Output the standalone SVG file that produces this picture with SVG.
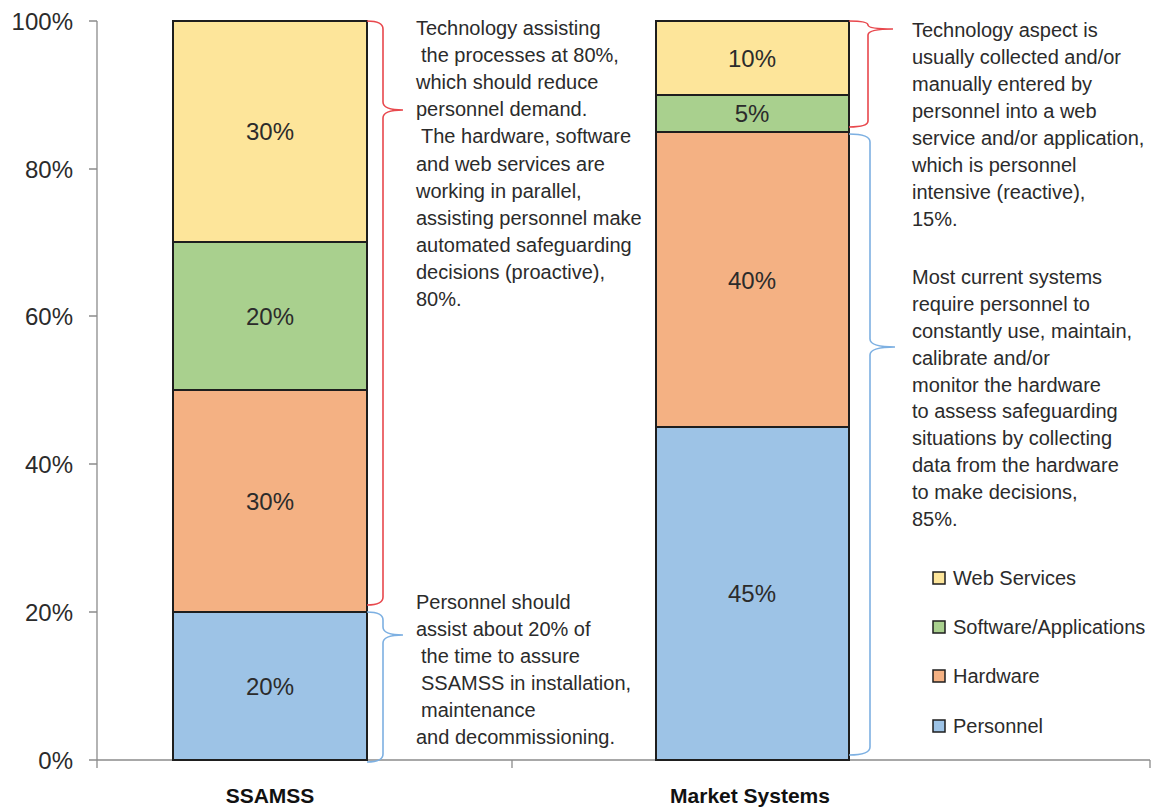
<svg xmlns="http://www.w3.org/2000/svg" width="1160" height="809" viewBox="0 0 1160 809">
<style>
.t{font-family:"Liberation Sans",Arial,sans-serif;font-size:20px;fill:#2b2b2b}
.ax{font-family:"Liberation Sans",Arial,sans-serif;font-size:24px;fill:#2b2b2b;text-anchor:end}
.v{font-family:"Liberation Sans",Arial,sans-serif;font-size:24px;fill:#2b2b2b;text-anchor:middle}
.cat{font-family:"Liberation Sans",Arial,sans-serif;font-size:21px;font-weight:bold;fill:#111;text-anchor:middle}
.seg{stroke:#1e1e1e;stroke-width:2}
.axis{stroke:#8c8c8c;stroke-width:1.3;fill:none}
.red{stroke:#e8484d;stroke-width:1.6;fill:none}
.blu{stroke:#7db0e2;stroke-width:1.6;fill:none}
.y{fill:#fde59a}.g{fill:#a9d08e}.o{fill:#f4b183}.b{fill:#9dc3e6}
.lg{stroke:#1e1e1e;stroke-width:1.5}
</style>
<rect width="1160" height="809" fill="#fff"/>
<g id="axes">
<path class="axis" d="M97,21 V768 M89,21 H97 M89,169 H97 M89,316 H97 M89,464 H97 M89,612 H97 M89,760 H1150 M512,760 V768 M1150,760 V768"/>
<text class="ax" x="73" y="30">100%</text>
<text class="ax" x="73" y="178">80%</text>
<text class="ax" x="73" y="325">60%</text>
<text class="ax" x="73" y="473">40%</text>
<text class="ax" x="73" y="621">20%</text>
<text class="ax" x="73" y="769">0%</text>
<text class="cat" x="270" y="803">SSAMSS</text>
<text class="cat" x="750" y="803">Market Systems</text>
</g>
<g id="bar-ssamss">
<rect class="seg y" x="173" y="21" width="194" height="221"/>
<rect class="seg g" x="173" y="242" width="194" height="148"/>
<rect class="seg o" x="173" y="390" width="194" height="222"/>
<rect class="seg b" x="173" y="612" width="194" height="148"/>
<text class="v" x="270" y="140">30%</text>
<text class="v" x="270" y="325">20%</text>
<text class="v" x="270" y="510">30%</text>
<text class="v" x="270" y="695">20%</text>
</g>
<g id="bar-market">
<rect class="seg y" x="656" y="21" width="193" height="74"/>
<rect class="seg g" x="656" y="95" width="193" height="37"/>
<rect class="seg o" x="656" y="132" width="193" height="295"/>
<rect class="seg b" x="656" y="427" width="193" height="333"/>
<text class="v" x="752" y="67">10%</text>
<text class="v" x="752" y="122">5%</text>
<text class="v" x="752" y="289">40%</text>
<text class="v" x="752" y="602">45%</text>
</g>
<g id="connectors">
<path class="red" d="M367,21 Q383,21 383,29 L383,102 Q383,110 403,110 Q383,110 383,118 L383,597 Q383,605 367,605"/>
<path class="blu" d="M367,612 Q383,612 383,620 L383,627 Q383,635 403,635 Q383,635 383,643 L383,754 Q383,762 367,762"/>
<path class="red" d="M849,21 Q868,21 868,25 Q868,29 893,29 Q868,29 868,35 L868,121 Q868,127 849,127"/>
<path class="blu" d="M849,134 Q870,134 870,142 L870,339 Q870,347 895,347 Q870,347 870,355 L870,747 Q870,755 849,755"/>
</g>
<g id="note-ssamss-tech">
<text class="t" x="416" y="35">Technology assisting</text>
<text class="t" x="421" y="62">the processes at 80%,</text>
<text class="t" x="416" y="89">which should reduce</text>
<text class="t" x="416" y="116">personnel demand.</text>
<text class="t" x="421" y="143">The hardware, software</text>
<text class="t" x="416" y="171">and web services are</text>
<text class="t" x="416" y="198">working in parallel,</text>
<text class="t" x="416" y="225">assisting personnel make</text>
<text class="t" x="416" y="252">automated safeguarding</text>
<text class="t" x="416" y="279">decisions (proactive),</text>
<text class="t" x="416" y="306">80%.</text>
</g>
<g id="note-ssamss-personnel">
<text class="t" x="416" y="609">Personnel should</text>
<text class="t" x="416" y="636">assist about 20% of</text>
<text class="t" x="421" y="663">the time to assure</text>
<text class="t" x="421" y="690">SSAMSS in installation,</text>
<text class="t" x="421" y="717">maintenance</text>
<text class="t" x="416" y="744">and decommissioning.</text>
</g>
<g id="note-market-tech">
<text class="t" x="912" y="37">Technology aspect is</text>
<text class="t" x="912" y="64">usually collected and/or</text>
<text class="t" x="912" y="91">manually entered by</text>
<text class="t" x="912" y="118">personnel into a web</text>
<text class="t" x="912" y="145">service and/or application,</text>
<text class="t" x="912" y="172">which is personnel</text>
<text class="t" x="912" y="199">intensive (reactive),</text>
<text class="t" x="912" y="226">15%.</text>
</g>
<g id="note-market-personnel">
<text class="t" x="912" y="284">Most current systems</text>
<text class="t" x="912" y="311">require personnel to</text>
<text class="t" x="912" y="338">constantly use, maintain,</text>
<text class="t" x="912" y="365">calibrate and/or</text>
<text class="t" x="912" y="392">monitor the hardware</text>
<text class="t" x="912" y="418">to assess safeguarding</text>
<text class="t" x="912" y="445">situations by collecting</text>
<text class="t" x="912" y="472">data from the hardware</text>
<text class="t" x="912" y="499">to make decisions,</text>
<text class="t" x="912" y="526">85%.</text>
</g>
<g id="legend">
<rect class="lg y" x="933" y="572" width="12" height="12"/>
<text class="t" x="953" y="585">Web Services</text>
<rect class="lg g" x="933" y="621" width="12" height="12"/>
<text class="t" x="953" y="634">Software/Applications</text>
<rect class="lg o" x="933" y="670" width="12" height="12"/>
<text class="t" x="953" y="683">Hardware</text>
<rect class="lg b" x="933" y="720" width="12" height="12"/>
<text class="t" x="953" y="733">Personnel</text>
</g>
</svg>
